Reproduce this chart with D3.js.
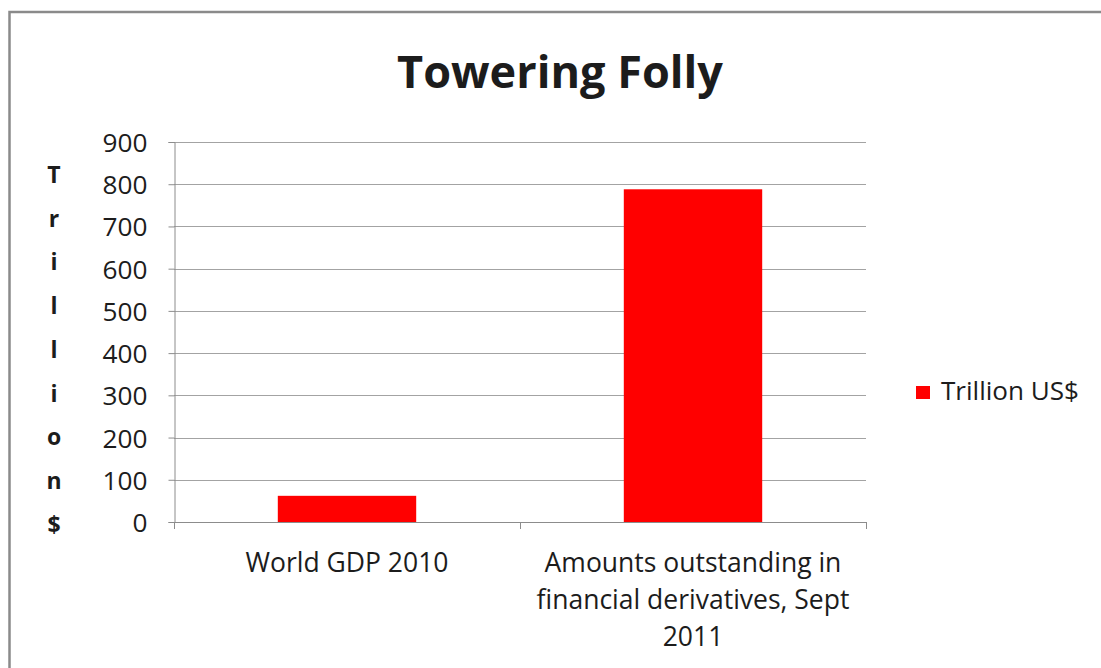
<!DOCTYPE html>
<html>
<head>
<meta charset="utf-8">
<script src="https://cdn.jsdelivr.net/npm/d3@7"></script>
<style>
  html, body { margin: 0; padding: 0; background: #fff; }
  svg { display: block; }
  text { font-family: "Open Sans", "Noto Sans", sans-serif; fill: #1c1c1c; }
</style>
</head>
<body>
<svg id="chart" width="1101" height="668"></svg>
<script>
// ---- data ----
const titleText = "Towering Folly";
const categories = ["World GDP 2010", "Amounts outstanding in financial derivatives, Sept 2011"];
const values = [62, 788];
const seriesName = "Trillion US$";
const yTicks = [0, 100, 200, 300, 400, 500, 600, 700, 800, 900];
const yTitleLetters = ["T", "r", "i", "l", "l", "i", "o", "n", "$"];

// ---- layout ----
const W = 1101, H = 668;
const plot = { left: 174, right: 866, top: 142, bottom: 522 };
const svg = d3.select("#chart");

function fit(sel, target) {
  const n = sel.node();
  const fs = parseFloat(sel.style("font-size"));
  const len = n.getComputedTextLength();
  const size = fs * target / len;
  sel.style("font-size", size + "px");
  return size;
}

// outer frame
svg.append("rect")
  .attr("x", 9.5).attr("y", 12)
  .attr("width", W + 20).attr("height", H + 20)
  .attr("fill", "#fff").attr("stroke", "#8a8a8a").attr("stroke-width", 2.5);

const y = d3.scaleLinear().domain([0, 900]).range([plot.bottom, plot.top]);
const x = d3.scaleBand().domain(categories).range([plot.left, plot.right])
  .paddingInner(0.6).paddingOuter(0.3);

// gridlines
svg.append("g").selectAll("line")
  .data(yTicks.filter(d => d > 0))
  .join("line")
  .attr("x1", plot.left).attr("x2", plot.right)
  .attr("y1", d => Math.round(y(d)) + 0.5).attr("y2", d => Math.round(y(d)) + 0.5)
  .attr("stroke", "#a3a3a3").attr("stroke-width", 1);

// bars
svg.append("g").selectAll("rect")
  .data(categories.map((c, i) => ({ c, v: values[i] })))
  .join("rect")
  .attr("x", d => x(d.c))
  .attr("width", x.bandwidth())
  .attr("y", d => y(d.v))
  .attr("height", d => y(0) - y(d.v))
  .attr("fill", "#ff0000");

// y axis
const yAxis = svg.append("g")
  .attr("transform", `translate(${plot.left + 0.5},0)`)
  .call(d3.axisLeft(y).tickValues(yTicks).tickSize(6).tickPadding(21).tickFormat(d3.format("d")));
yAxis.select(".domain").attr("stroke", "#8c8c8c");
yAxis.selectAll(".tick line").attr("stroke", "#8c8c8c");
yAxis.selectAll(".tick text")
  .attr("font-family", null)
  .style("font-family", "'Open Sans', sans-serif")
  .style("font-size", "26px")
  .attr("fill", "#262626")
  .attr("dy", "0.36em");
{
  const t900 = yAxis.selectAll(".tick text").filter(d => d === 900);
  const s = fit(t900, 45);
  yAxis.selectAll(".tick text").style("font-size", s + "px");
}

// x axis
const xg = svg.append("g");
xg.append("line")
  .attr("x1", plot.left).attr("x2", plot.right)
  .attr("y1", plot.bottom + 0.5).attr("y2", plot.bottom + 0.5)
  .attr("stroke", "#8c8c8c");
const step = x.step();
const bounds = [plot.left];
categories.forEach((c, i) => {
  if (i < categories.length - 1) bounds.push(x(c) + x.bandwidth() + step * x.paddingInner() / 2);
});
bounds.push(plot.right);
xg.selectAll("line.tk").data(bounds).join("line").attr("class", "tk")
  .attr("x1", d => Math.round(d) + 0.5).attr("x2", d => Math.round(d) + 0.5)
  .attr("y1", plot.bottom).attr("y2", plot.bottom + 7)
  .attr("stroke", "#8c8c8c");

// x labels (wrapped)
const labelG = svg.append("g");
const probe = labelG.append("text").text(categories[0]).style("font-size", "26px");
const xFont = fit(probe, 203);
probe.remove();
const maxW = step * 0.96;
const lineH = 37;
categories.forEach(c => {
  const t = labelG.append("text")
    .attr("text-anchor", "middle")
    .style("font-size", xFont + "px")
    .attr("fill", "#1c1c1c");
  const words = c.split(" ");
  let lines = [], cur = [];
  const meas = labelG.append("text").style("font-size", xFont + "px");
  words.forEach(w => {
    const tryLine = cur.concat([w]).join(" ");
    meas.text(tryLine);
    if (meas.node().getComputedTextLength() > maxW && cur.length) {
      lines.push(cur.join(" "));
      cur = [w];
    } else cur.push(w);
  });
  lines.push(cur.join(" "));
  meas.remove();
  const cx = x(c) + x.bandwidth() / 2;
  lines.forEach((ln, i) => {
    t.append("tspan").attr("x", cx).attr("y", 572 + i * lineH).text(ln);
  });
});

// y title (stacked letters)
svg.append("g").selectAll("text")
  .data(yTitleLetters)
  .join("text")
  .attr("x", 54)
  .attr("y", (d, i) => 183 + i * 43.7)
  .attr("text-anchor", "middle")
  .style("font-size", "23px")
  .style("font-weight", "bold")
  .style("font-family", "'Open Sans', sans-serif")
  .attr("fill", "#111")
  .text(d => d);

// title
const title = svg.append("text")
  .attr("x", 560).attr("y", 88)
  .attr("text-anchor", "middle")
  .style("font-size", "44px")
  .style("font-weight", "bold")
  .attr("fill", "#000")
  .text(titleText);
fit(title, 326);

// legend
const lg = svg.append("g");
lg.append("rect").attr("x", 916).attr("y", 386).attr("width", 14).attr("height", 13).attr("fill", "#ff0000");
const lt = lg.append("text").attr("x", 941).attr("y", 400).style("font-size", "24px").attr("fill", "#1c1c1c").text(seriesName);
fit(lt, 138);
</script>
</body>
</html>
